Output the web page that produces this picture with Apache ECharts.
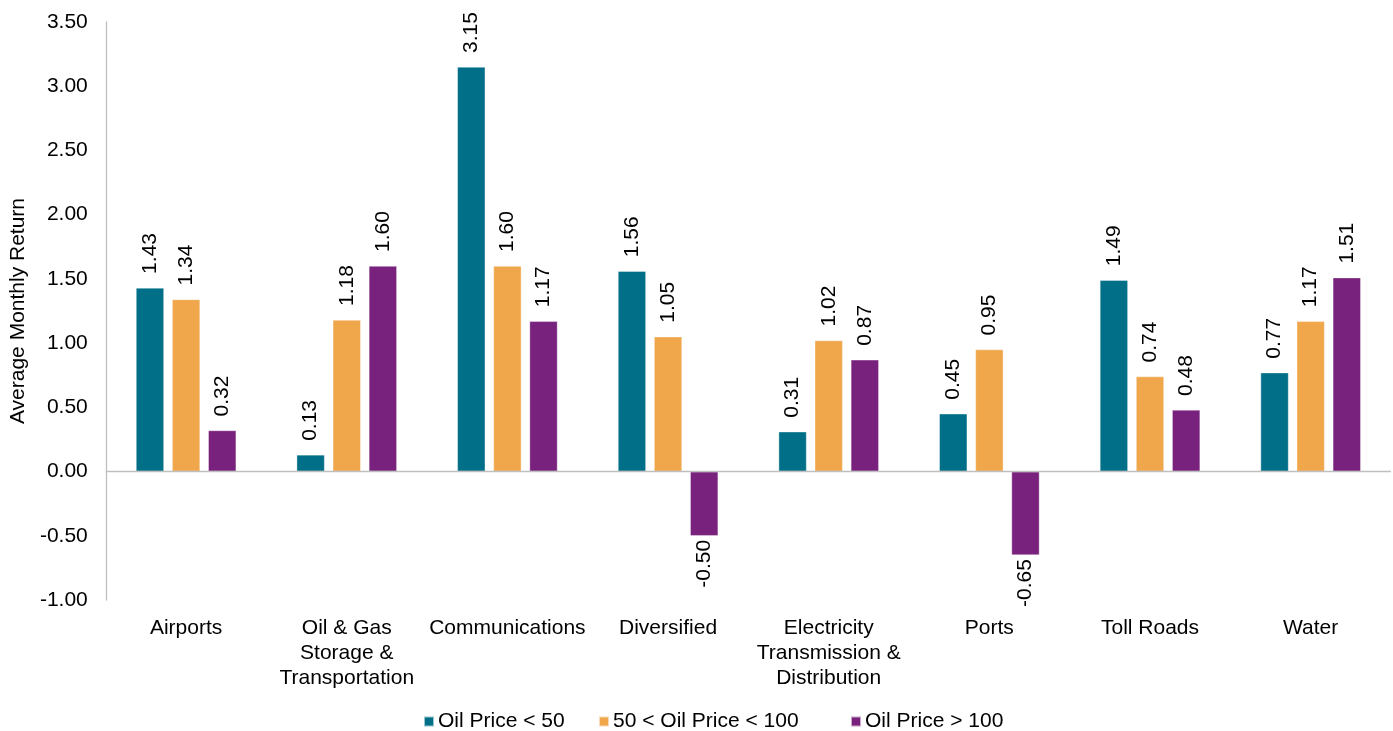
<!DOCTYPE html>
<html>
<head>
<meta charset="utf-8">
<style>
  html, body { margin: 0; padding: 0; background: #fff; }
  #chart { width: 1393px; height: 731px; }
</style>
<script src="https://cdn.jsdelivr.net/npm/echarts@6/dist/echarts.min.js"></script>
</head>
<body>
<div id="chart"></div>
<script>
// Average monthly return by infrastructure sector, split by oil price regime
const categories = [
  'Airports',
  'Oil & Gas\nStorage &\nTransportation',
  'Communications',
  'Diversified',
  'Electricity\nTransmission &\nDistribution',
  'Ports',
  'Toll Roads',
  'Water'
];
const seriesNames = ['Oil Price < 50', '50 < Oil Price < 100', 'Oil Price > 100'];
const oilBelow50 = [1.43, 0.13, 3.15, 1.56, 0.31, 0.45, 1.49, 0.77];
const oil50to100 = [1.34, 1.18, 1.60, 1.05, 1.02, 0.95, 0.74, 1.17];
const oilAbove100 = [0.32, 1.60, 1.17, -0.50, 0.87, -0.65, 0.48, 1.51];
const yTicks = { min: -1, max: 3.5, interval: 0.5 };

const colors = ['#006F87', '#F0A74C', '#78217D'];
const fontFamily = '"Liberation Sans", Arial, sans-serif';
const fontSize = 21;
const textColor = '#000';
const axisGray = '#BFBFBF';

// Positive bars carry their label above; negative bars below, reading upward.
function withLabels(values) {
  return values.map(v => ({
    value: v,
    label: v < 0
      ? { position: 'bottom', align: 'right', distance: 4 }
      : { position: 'top', align: 'left', distance: 14 }
  }));
}

function barSeries(name, values, color, idx) {
  const s = {
    name: name,
    type: 'bar',
    data: withLabels(values),
    barWidth: 28,
    barGap: '29%',
    itemStyle: { color: color, borderColor: 'rgba(255,255,255,0.6)', borderWidth: 0.6 },
    label: {
      show: true,
      rotate: 90,
      verticalAlign: 'middle',
      fontFamily: fontFamily,
      fontSize: fontSize,
      color: textColor,
      formatter: p => Number(p.value).toFixed(2)
    }
  };
  if (idx === 0) {
    // Zero baseline drawn across the plot
    s.markLine = {
      silent: true,
      symbol: ['none', 'none'],
      label: { show: false },
      lineStyle: { color: axisGray, type: 'solid', width: 1.3 },
      data: [{ yAxis: 0 }],
      animation: false
    };
  }
  return s;
}

// One legend block per series so each entry sits at its own spot along the bottom
const legendLefts = [423, 598, 850];
const legends = seriesNames.map((n, i) => ({
  data: [n],
  left: legendLefts[i],
  top: 711,
  icon: 'rect',
  itemWidth: 10,
  itemHeight: 10,
  padding: 0,
  textStyle: { fontFamily: fontFamily, fontSize: fontSize, color: textColor, padding: [0, 0, 0, -1] }
}));

const chart = echarts.init(document.getElementById('chart'), null, { renderer: 'canvas' });
chart.setOption({
  animation: false,
  color: colors,
  textStyle: { fontFamily: fontFamily },
  grid: { left: 105, right: 2, top: 22, bottom: 131, containLabel: false },
  legend: legends,
  xAxis: {
    type: 'category',
    data: categories,
    axisLine: { show: false, onZero: false },
    axisTick: { show: false },
    axisLabel: {
      interval: 0,
      margin: 16,
      fontFamily: fontFamily,
      fontSize: fontSize,
      lineHeight: 25,
      color: textColor
    }
  },
  yAxis: {
    type: 'value',
    min: yTicks.min,
    max: yTicks.max,
    interval: yTicks.interval,
    name: 'Average Monthly Return',
    nameLocation: 'middle',
    nameGap: 76,
    nameTextStyle: { fontFamily: fontFamily, fontSize: fontSize, color: textColor },
    axisLine: { show: true, lineStyle: { color: axisGray, width: 1.3 } },
    axisTick: { show: false },
    splitLine: { show: false },
    axisLabel: {
      margin: 18,
      fontFamily: fontFamily,
      fontSize: fontSize,
      color: textColor,
      formatter: v => v.toFixed(2)
    }
  },
  series: [
    barSeries(seriesNames[0], oilBelow50, colors[0], 0),
    barSeries(seriesNames[1], oil50to100, colors[1], 1),
    barSeries(seriesNames[2], oilAbove100, colors[2], 2)
  ]
});
</script>
</body>
</html>
